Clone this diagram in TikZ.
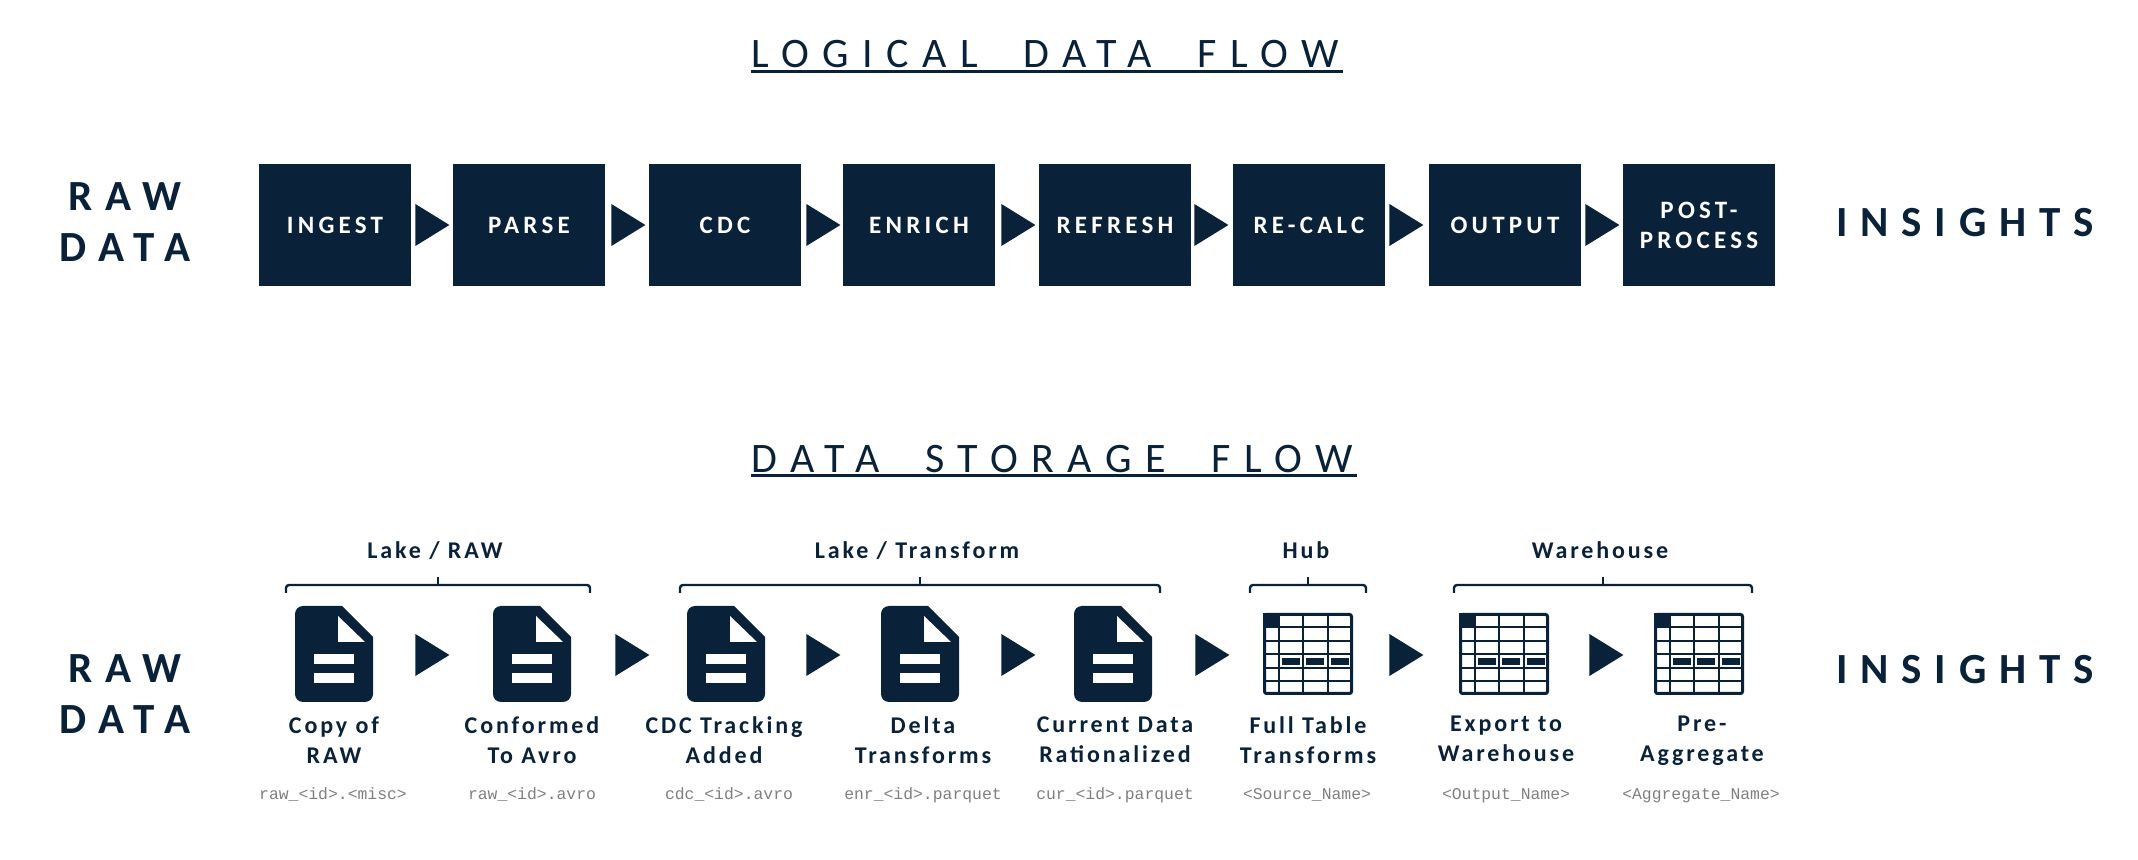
\documentclass[tikz,border=0pt]{standalone}
\usepackage{fontspec}
\usetikzlibrary{shapes.geometric}
\setmainfont{Carlito}
\setmonofont{Liberation Mono}
\newfontfamily\titlefont[LetterSpace=32, WordSpace=2.0]{Carlito}
\newfontfamily\edgefont[LetterSpace=30]{Carlito}
\newfontfamily\boxfont[LetterSpace=17]{Carlito}
\newfontfamily\stepfont[LetterSpace=12]{Carlito}
\definecolor{navy}{HTML}{0A2239}
\definecolor{filegray}{HTML}{7F7F7F}
\tikzset{
  title/.style={anchor=base west, inner sep=0, text=navy, font=\titlefont\fontsize{21}{21}\selectfont},
  edgetext/.style={inner sep=0, align=center, text=navy, font=\edgefont\bfseries\fontsize{21.5}{25.5}\selectfont},
  process/.style={fill=navy, text=white, inner sep=0, minimum width=76pt, minimum height=61pt, align=center, font=\boxfont\bfseries\fontsize{12.5}{15}\selectfont},
  flowtip/.style={isosceles triangle, isosceles triangle stretches, fill=navy, inner sep=0, minimum width=21pt, minimum height=17pt, anchor=lower side},
  steptext/.style={anchor=north, inner sep=0, align=center, text=navy, execute at begin node=\strut, font=\stepfont\bfseries\fontsize{12}{15}\selectfont},
  filetext/.style={inner sep=0, text=filegray, execute at begin node=\strut, font=\ttfamily\fontsize{8.2}{10}\selectfont},
  brace/.style={draw=navy, line width=1.2pt, rounded corners=1.5pt},
  pics/docicon/.style={code={
    \fill[navy, rounded corners=4pt] (0,48) -- (0,0) -- (20,0) [sharp corners] -- (47,0) -- (78,31) -- (78,50) [rounded corners=4pt] -- (78,96) -- (0,96) -- cycle;
    \fill[white] (43,10) -- (43,36) -- (70,36) -- cycle;
    \fill[white] (19,48) rectangle (59,58);
    \fill[white] (19,67) rectangle (59,77);
  }},
  pics/tableicon/.style={code={
    \draw[navy, line width=1.5pt, rounded corners=1pt] (1.5,1.5) rectangle (88.5,80.5);
    \foreach \y in {14,28,41,55,68} \draw[navy, line width=1.4pt] (0,\y) -- (90,\y);
    \foreach \x in {16,40,65} \draw[navy, line width=1.4pt] (\x,0) -- (\x,82);
    \fill[navy] (0,0) rectangle (16,15);
    \foreach \x in {19,43,68} \fill[navy] (\x,45) rectangle (\x+18,52);
  }}
}
\begin{document}
\begin{tikzpicture}[x=0.5pt, y=-0.5pt]
\useasboundingbox (0,0) rectangle (2138,860);

% logical flow

\node [title] (t1) at (751,68) {LOGICAL DATA FLOW};
\draw [navy, line width=1.5pt] (751,72) -- (1343,72);

\node [edgetext] (raw1) at (125,222) {RAW\\DATA};
\node [edgetext] (out1) at (1965,223) {INSIGHTS};

\node [process] (11) at (335,225) {INGEST};
\node [process] (12) at (529,225) {PARSE};
\node [process] (13) at (725,225) {CDC};
\node [process] (14) at (919,225) {ENRICH};
\node [process] (15) at (1115,225) {REFRESH};
\node [process] (16) at (1309,225) {RE-CALC};
\node [process] (17) at (1505,225) {OUTPUT};
\node [process] (18) at (1699,225) {POST-\\PROCESS};

\node [flowtip] (a11) at (415,225) {};
\node [flowtip] (a12) at (611,225) {};
\node [flowtip] (a13) at (806,225) {};
\node [flowtip] (a14) at (1001,225) {};
\node [flowtip] (a15) at (1194,225) {};
\node [flowtip] (a16) at (1389,225) {};
\node [flowtip] (a17) at (1585,225) {};

% storage flow

\node [title] (t2) at (751,473) {DATA STORAGE FLOW};
\draw [navy, line width=1.5pt] (751,476) -- (1357,476);

\node [edgetext] (raw2) at (125,694) {RAW\\DATA};
\node [edgetext] (out2) at (1965,670) {INSIGHTS};

\node [steptext] (g1) at (435,537) {Lake / RAW};
\node [steptext] (g2) at (917,537) {Lake / Transform};
\node [steptext] (g3) at (1306,537) {Hub};
\node [steptext] (g4) at (1600,537) {Warehouse};

\draw [brace] (286,593) -- (286,585) -- (590,585) -- (590,593);
\draw [brace] (680,593) -- (680,585) -- (1160,585) -- (1160,593);
\draw [brace] (1250,593) -- (1250,585) -- (1366,585) -- (1366,593);
\draw [brace] (1454,593) -- (1454,585) -- (1752,585) -- (1752,593);
\draw [navy, line width=1.2pt] (438,585) -- (438,577);
\draw [navy, line width=1.2pt] (920,585) -- (920,577);
\draw [navy, line width=1.2pt] (1308,585) -- (1308,577);
\draw [navy, line width=1.2pt] (1603,585) -- (1603,577);

\pic (d1) at (295,606) {docicon};
\pic (d2) at (493,606) {docicon};
\pic (d3) at (687,606) {docicon};
\pic (d4) at (881,606) {docicon};
\pic (d5) at (1074,606) {docicon};
\pic (d6) at (1263,613) {tableicon};
\pic (d7) at (1459,613) {tableicon};
\pic (d8) at (1654,613) {tableicon};

\node [flowtip] (a21) at (415,655) {};
\node [flowtip] (a22) at (615,655) {};
\node [flowtip] (a23) at (806,655) {};
\node [flowtip] (a24) at (1001,655) {};
\node [flowtip] (a25) at (1195,655) {};
\node [flowtip] (a26) at (1389,655) {};
\node [flowtip] (a27) at (1589,655) {};

\node [steptext] (21) at (334,716) {Copy of\\RAW};
\node [steptext] (22) at (532,716) {Conformed\\To Avro};
\node [steptext] (23) at (724,716) {CDC Tracking\\Added};
\node [steptext] (24) at (923,716) {Delta\\Transforms};
\node [steptext] (25) at (1115,716) {Current Data\\Rationalized};
\node [steptext] (26) at (1308,716) {Full Table\\Transforms};
\node [steptext] (27) at (1506,716) {Export to\\Warehouse};
\node [steptext] (28) at (1702,716) {Pre-\\Aggregate};

\node [filetext] (f1) at (333,795) {raw\_<id>.<misc>};
\node [filetext] (f2) at (532,795) {raw\_<id>.avro};
\node [filetext] (f3) at (729,795) {cdc\_<id>.avro};
\node [filetext] (f4) at (923,795) {enr\_<id>.parquet};
\node [filetext] (f5) at (1115,795) {cur\_<id>.parquet};
\node [filetext] (f6) at (1307,795) {<Source\_Name>};
\node [filetext] (f7) at (1506,795) {<Output\_Name>};
\node [filetext] (f8) at (1701,795) {<Aggregate\_Name>};

\end{tikzpicture}
\end{document}
